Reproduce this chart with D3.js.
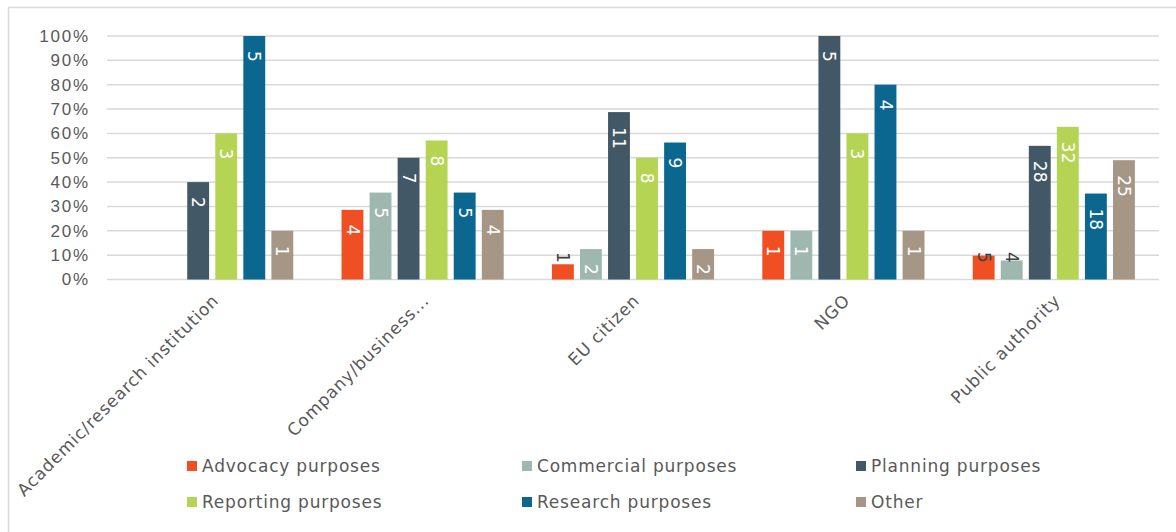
<!DOCTYPE html>
<html>
    <head>
        <style>
            body {
                margin: 0;
                font-family: "DejaVu Sans", Verdana, sans-serif;
                background: #fff;
            }
            .tick text {
                fill: #595959;
                font-size: 17px;
                letter-spacing: 1.8px;
            }
            .grid line {
                stroke: #d9d9d9;
                stroke-width: 1.5px;
            }
            .cat-label, .legend text {
                fill: #595959;
                font-size: 17px;
                letter-spacing: 0.8px;
            }
            .bar-label {
                font-size: 17px;
            }
        </style>
    </head>
    <body>
        <script src='https://d3js.org/d3.v7.min.js'></script>
        <script>
            const categories = ['Academic/research institution', 'Company/business...', 'EU citizen', 'NGO', 'Public authority'];
            const seriesNames = ['Advocacy purposes', 'Commercial purposes', 'Planning purposes', 'Reporting purposes', 'Research purposes', 'Other'];
            const seriesColors = ['#f04e23', '#9fb8af', '#435866', '#b5d454', '#0b6690', '#a69685'];

            // share of respondents (bar height) and respondent count (label)
            const advocacyShare   = [0, 0.286, 0.0625, 0.2, 0.098];
            const advocacyCount   = [0, 4, 1, 1, 5];
            const commercialShare = [0, 0.357, 0.125, 0.2, 0.078];
            const commercialCount = [0, 5, 2, 1, 4];
            const planningShare   = [0.4, 0.5, 0.6875, 1.0, 0.549];
            const planningCount   = [2, 7, 11, 5, 28];
            const reportingShare  = [0.6, 0.571, 0.5, 0.6, 0.627];
            const reportingCount  = [3, 8, 8, 3, 32];
            const researchShare   = [1.0, 0.357, 0.5625, 0.8, 0.353];
            const researchCount   = [5, 5, 9, 4, 18];
            const otherShare      = [0.2, 0.286, 0.125, 0.2, 0.49];
            const otherCount      = [1, 4, 2, 1, 25];

            const yTicks = [0, 0.1, 0.2, 0.3, 0.4, 0.5, 0.6, 0.7, 0.8, 0.9, 1.0];

            const shares = [advocacyShare, commercialShare, planningShare, reportingShare, researchShare, otherShare];
            const counts = [advocacyCount, commercialCount, planningCount, reportingCount, researchCount, otherCount];

            const width = 1176, height = 532;

            const svg = d3.select('body').append('svg')
                .attr('width', width)
                .attr('height', height);

            // chart frame
            svg.append('rect')
                .attr('x', 8.5).attr('y', 7.5)
                .attr('width', width + 20).attr('height', height + 20)
                .attr('fill', 'none')
                .attr('stroke', '#d9d9d9')
                .attr('stroke-width', 1.5);

            const x0 = d3.scaleBand()
                .domain(categories)
                .range([107, 1159]);

            const x1 = d3.scaleBand()
                .domain(seriesNames)
                .range([0, x0.bandwidth()])
                .paddingInner(0.22)
                .paddingOuter(0.86);

            const y = d3.scaleLinear()
                .domain([0, 1])
                .range([279.5, 36]);

            // gridlines
            svg.append('g')
                .attr('class', 'grid')
                .selectAll('line')
                .data(yTicks)
                .join('line')
                .attr('x1', 107).attr('x2', 1159)
                .attr('y1', d => y(d)).attr('y2', d => y(d));

            const yAxis = svg.append('g')
                .attr('transform', 'translate(96,0)')
                .call(d3.axisLeft(y).tickValues(yTicks).tickFormat(d3.format('.0%')).tickSize(0).tickPadding(0));
            yAxis.select('.domain').remove();
            yAxis.selectAll('text').attr('x', -6);

            const rows = [];
            seriesNames.forEach((s, si) => {
                categories.forEach((c, ci) => {
                    rows.push({ series: s, si, cat: c, share: shares[si][ci], count: counts[si][ci] });
                });
            });
            const visible = rows.filter(d => d.count > 0);

            svg.append('g')
                .selectAll('rect')
                .data(visible)
                .join('rect')
                .attr('x', d => x0(d.cat) + x1(d.series))
                .attr('y', d => y(d.share))
                .attr('width', x1.bandwidth())
                .attr('height', d => y(0) - y(d.share))
                .attr('fill', d => seriesColors[d.si]);

            // labels, rotated to read top-down
            svg.append('g')
                .selectAll('text')
                .data(visible)
                .join('text')
                .attr('class', 'bar-label')
                .each(function(d) {
                    const cx = x0(d.cat) + x1(d.series) + x1.bandwidth() / 2;
                    const h = y(0) - y(d.share);
                    const inside = h > 28;
                    const ty = inside ? y(d.share) + 15 : y(0) - 22;
                    d3.select(this)
                        .attr('transform', `translate(${cx},${ty}) rotate(90)`)
                        .attr('text-anchor', inside ? 'start' : 'middle')
                        .attr('dy', '0.35em')
                        .attr('fill', inside ? '#ffffff' : '#404040')
                        .text(d.count);
                });

            // category labels
            svg.append('g')
                .selectAll('text')
                .data(categories)
                .join('text')
                .attr('class', 'cat-label')
                .attr('text-anchor', 'end')
                .attr('transform', d => `translate(${x0(d) + x0.bandwidth() / 2 - 1},${293}) rotate(-45)`)
                .attr('dy', '0.71em')
                .text(d => d);

            // legend
            const legendX = [187, 522, 856];
            const legendY = [466, 502];
            const legend = svg.append('g')
                .attr('class', 'legend')
                .selectAll('g')
                .data(seriesNames)
                .join('g')
                .attr('transform', (d, i) => `translate(${legendX[i % 3]},${legendY[Math.floor(i / 3)]})`);
            legend.append('rect')
                .attr('x', 0).attr('y', -5)
                .attr('width', 10).attr('height', 10)
                .attr('fill', (d, i) => seriesColors[i]);
            legend.append('text')
                .attr('x', 15)
                .attr('dy', '0.35em')
                .text(d => d);
        </script>
    </body>
</html>
